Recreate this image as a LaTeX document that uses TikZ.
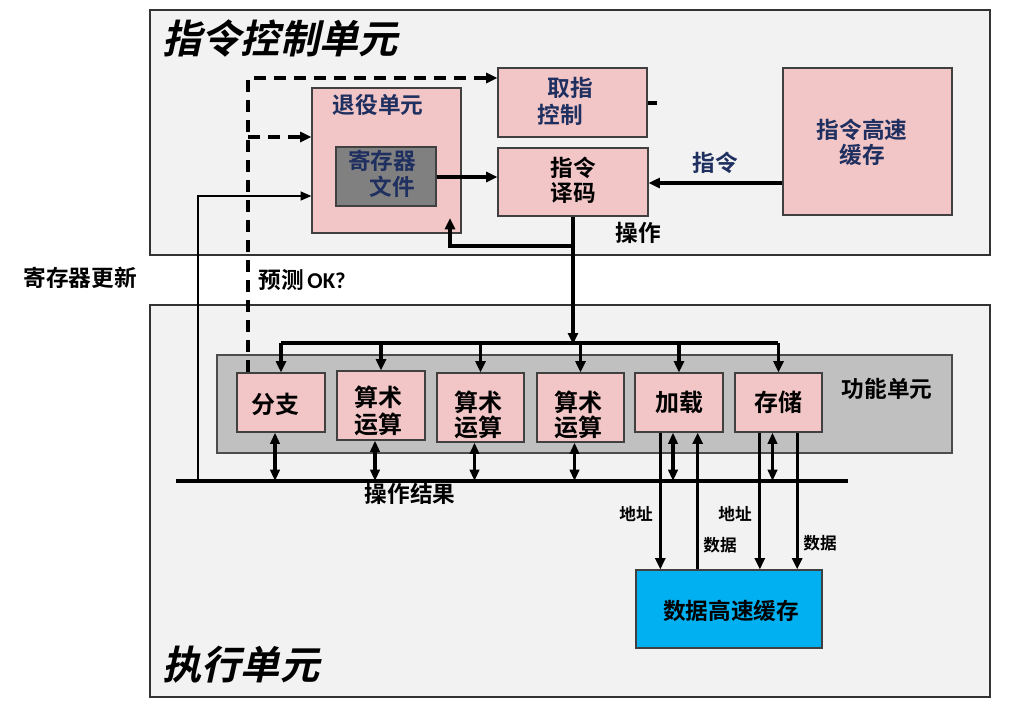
\documentclass[tikz,border=0pt]{standalone}
\usepackage{fontspec}
\setmainfont{Noto Sans CJK SC}[BoldFont={Noto Sans CJK SC Bold}]
\newfontfamily\slfont{Noto Sans CJK SC Bold}[FakeSlant=0.22]
\newfontfamily\okfont{Carlito}[BoldFont={Carlito Bold}]
\usetikzlibrary{arrows.meta,fit}
\definecolor{panelgray}{HTML}{F2F2F2}
\definecolor{pinkf}{HTML}{F2C6C6}
\definecolor{fugray}{HTML}{C0C0C0}
\definecolor{rfgray}{HTML}{808080}
\definecolor{navy}{HTML}{1F3060}
\definecolor{cyanf}{HTML}{00B0F0}
\begin{document}
\begin{tikzpicture}[x=0.75pt,y=-0.75pt,
  panel/.style={draw=black!80, line width=1.3pt, fill=panelgray, inner sep=0pt},
  box/.style={draw=black!75, line width=0.9pt, fill=pinkf, inner sep=0pt},
  lbl/.style={font=\bfseries\fontsize{17}{20}\selectfont, inner sep=0pt, align=center},
  ulbl/.style={font=\bfseries\fontsize{18}{20}\selectfont, inner sep=0pt, align=center},
  small/.style={font=\bfseries\fontsize{12.5}{14}\selectfont, inner sep=0pt},
  ttl/.style={font=\slfont\fontsize{29.5}{31}\selectfont, inner sep=0pt, anchor=west},
  arr/.style={line width=2.4pt, -{Triangle[length=8.5pt,width=7.5pt]}},
  thinarr/.style={line width=1.5pt, -{Triangle[length=8pt,width=6.5pt]}},
  darr/.style={line width=2.4pt, {Triangle[length=8.5pt,width=7pt]}-{Triangle[length=8.5pt,width=7pt]}},
  dsh/.style={arr, dash pattern=on 9pt off 6pt},
  bus/.style={line width=2.6pt}
]
\useasboundingbox (0,0) rectangle (1016,707);
\fill[white] (0,0) rectangle (1016,707);
% panels
\node[panel, fit={(150,10)(990,255)}] (ctrl) {};
\node[panel, fit={(150,305)(990,697)}] (exec) {};
\node[ttl] (ttlc) at (162,38) {指令控制单元};
\node[ttl] (ttle) at (162,665) {执行单元};
% control unit boxes
\node[box, fit={(498,68)(647,137)}] (fetch) {};
\node[lbl, text=navy] (fetchA) at (570,88) {取指};
\node[lbl, text=navy] (fetchB) at (560,115) {控制};
\node[box, fit={(312,88)(461,233)}] (retire) {};
\node[lbl, text=navy] (retireT) at (378,105) {退役单元};
\node[box, fill=rfgray, fit={(336,147)(436,206)}] (regfile) {};
\node[lbl, text=navy] (rfA) at (382,161) {寄存器};
\node[lbl, text=navy] (rfB) at (392,187) {文件};
\node[box, fit={(498,148)(648,216)}] (decode) {};
\node[lbl] (decA) at (573,168) {指令};
\node[lbl] (decB) at (573,193) {译码};
\node[box, fit={(783,68)(952,215)}] (icache) {};
\node[lbl, text=navy] (icA) at (862,130) {指令高速};
\node[lbl, text=navy] (icB) at (862,155) {缓存};
% execution unit boxes
\node[draw=black!70, line width=0.9pt, fill=fugray, inner sep=0pt, fit={(217,355)(952,453)}] (fu) {};
\node[lbl] (fuT) at (887,389) {功能单元};
\node[box, fit={(237,373)(325,432)}] (br) {};
\node[ulbl] (brT) at (275,404) {分支};
\node[box, fit={(337,371)(425,440)}] (alu1) {};
\node[ulbl] (a1A) at (378,397) {算术};
\node[ulbl] (a1B) at (378,424) {运算};
\node[box, fit={(437,373)(524,442)}] (alu2) {};
\node[ulbl] (a2A) at (478,402) {算术};
\node[ulbl] (a2B) at (478,427) {运算};
\node[box, fit={(537,373)(624,442)}] (alu3) {};
\node[ulbl] (a3A) at (578,402) {算术};
\node[ulbl] (a3B) at (578,427) {运算};
\node[box, fit={(635,373)(723,432)}] (load) {};
\node[ulbl] (ldT) at (679,402) {加载};
\node[box, fit={(735,373)(822,432)}] (store) {};
\node[ulbl] (stT) at (778,402) {存储};
\node[box, fill=cyanf, fit={(636,570)(822,648)}] (dcache) {};
\node[lbl] (dcT) at (731,611) {数据高速缓存};
% coordinates
\coordinate (y78) at (248,78);
\coordinate (y137) at (248,137);
\coordinate (y177) at (0,177);
\coordinate (y183) at (0,183);
\coordinate (y103) at (0,103);
\coordinate (ru) at (198,196);
\coordinate (rb) at (450,218);
\coordinate (y246) at (0,246);
\coordinate (tbL) at (281,343);
\coordinate (tbR) at (778,343);
\coordinate (rbL) at (176,481);
\coordinate (rbR) at (848,481);
% control connectors
\draw[arr] (icache.west |- y183) -- (decode.east |- y183) node[midway, above=6pt, lbl, text=navy] (lblI) {指令};
\draw[arr] (regfile.east |- y177) -- (decode.west |- y177);
\draw[line width=2.4pt] (fetch.east |- y103) -- ++(9,0);
\draw[dsh] (br.north -| y78) -- (y78) -- (fetch.west |- y78);
\draw[dsh] (y137) -- (retire.west |- y137);
\draw[thinarr] (ru |- rbL) -- (ru) -- (retire.west |- ru);
\draw[arr] (decode.south |- y246) -- (rb |- y246) -- (rb);
\draw[arr] (decode.south) -- ([yshift=-1pt]decode.south |- tbL);
% buses
\draw[bus] (tbL) -- (tbR);
\draw[bus] (rbL) -- (rbR);
\foreach \u in {br,alu1,alu2,alu3,load,store}{
  \draw[arr] (\u.north |- tbL) -- (\u.north);
  \draw[darr] ([xshift=-4.5pt]\u.south) -- ([xshift=-4.5pt]\u.south |- rbL);
}
% memory connectors
\draw[arr] ([xshift=-14pt]load.south) -- ([xshift=-14pt]load.south |- dcache.north);
\draw[arr] ([xshift=14pt]load.south |- dcache.north) -- ([xshift=14pt]load.south);
\draw[arr] ([xshift=-14pt]store.south) -- ([xshift=-14pt]store.south |- dcache.north);
\draw[arr] ([xshift=14pt]store.south) -- ([xshift=14pt]store.south |- dcache.north);
% labels
\node[lbl] (opL) at (638,233) {操作};
\node[lbl] (regU) at (80,278) {寄存器更新};
\node[lbl] (pred) at (302,280) {预测\,{\okfont\bfseries OK?}};
\node[lbl] (opR) at (410,494) {操作结果};
\node[small] (a1) at (636,514) {地址};
\node[small] (d1) at (720,545) {数据};
\node[small] (a2) at (735,514) {地址};
\node[small] (d2) at (820,543) {数据};
\end{tikzpicture}
\end{document}
